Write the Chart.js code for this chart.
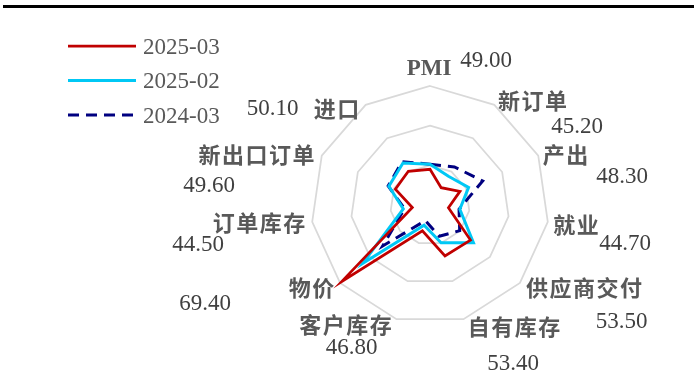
<!DOCTYPE html>
<html>
<head>
<meta charset="utf-8">
<script src="https://cdn.jsdelivr.net/npm/chart.js@4/dist/chart.umd.min.js"></script>
<style>
  html, body { margin: 0; padding: 0; background: #fff; }
  #wrap { position: relative; width: 694px; height: 381px; overflow: hidden; }
  #rule { position: absolute; left: 3px; right: 0; top: 5px; height: 2.5px; background: #000; }
  canvas { display: block; }
</style>
</head>
<body>
<div id="wrap">
  <div id="rule"></div>
  <canvas id="c" width="694" height="381"></canvas>
</div>
<script>
// Sub-indices of the manufacturing PMI, clockwise from the top
const categories = ['PMI', '新订单', '产出', '就业', '供应商交付', '自有库存', '客户库存', '物价', '订单库存', '新出口订单', '进口'];
const seriesNames = ['2025-03', '2025-02', '2024-03'];
const values202503 = [49.0, 45.2, 48.3, 44.7, 53.5, 53.4, 46.8, 69.4, 44.5, 49.6, 50.1];
const values202502 = [50.3, 48.6, 50.7, 47.6, 54.5, 49.9, 45.3, 62.4, 46.8, 51.4, 52.6];
const values202403 = [50.3, 51.4, 54.6, 47.4, 49.9, 48.2, 44.1, 55.8, 46.5, 51.6, 53.0];
const scaleTicks = [40, 50, 60, 70];

// Placement of the axis names and of the latest values, relative to the radar centre
const labelLayout = [
  { name: [-1, -137.5],   value: [56, -146] },
  { name: [102.5, -104],  value: [147, -80] },
  { name: [135.5, -50],   value: [192, -29.5] },
  { name: [146, 20],      value: [195, 37.5] },
  { name: [154, 83],      value: [191.5, 115.5] },
  { name: [84, 121.5],    value: [83, 157.5] },
  { name: [-84.5, 120],   value: [-78.5, 141.5] },
  { name: [-118.5, 82.5], value: [-225, 97.5] },
  { name: [-171, 18],     value: [-232, 38.5] },
  { name: [-173.5, -50],  value: [-221, -21] },
  { name: [-93.5, -96],   value: [-157.5, -97.5] }
];

const SERIF = '"Liberation Serif", "Times New Roman", serif';
const CJK = '"Noto Sans CJK SC", "Noto Sans CJK JP", sans-serif';

// Axis names plus the 2025-03 reading next to each spoke
const axisLabelPlugin = {
  id: 'axisLabels',
  afterDatasetsDraw(chart) {
    const s = chart.scales.r;
    const ctx = chart.ctx;
    ctx.save();
    ctx.textAlign = 'center';
    ctx.textBaseline = 'alphabetic';
    categories.forEach((name, i) => {
      const L = labelLayout[i];
      const latin = /^[A-Za-z]+$/.test(name);
      if (latin) {
        ctx.letterSpacing = '0px';
        ctx.font = 'bold 23px ' + SERIF;
      } else {
        ctx.letterSpacing = '1.5px';
        ctx.font = 'bold 22px ' + CJK;
      }
      ctx.fillStyle = '#595959';
      ctx.fillText(name, s.xCenter + L.name[0] + (latin ? 0 : 0.75), s.yCenter + L.name[1] + (latin ? 7.5 : 8.3));
      ctx.letterSpacing = '0px';
      ctx.font = '23px ' + SERIF;
      ctx.fillStyle = '#404040';
      ctx.fillText(values202503[i].toFixed(2), s.xCenter + L.value[0], s.yCenter + L.value[1] + 7.5);
    });
    ctx.restore();
  }
};

// Vertical line legend in the upper-left corner
const lineLegendPlugin = {
  id: 'lineLegend',
  afterDraw(chart) {
    const ctx = chart.ctx;
    const x0 = 68, x1 = 136, top = 46, gap = 34.5;
    ctx.save();
    chart.data.datasets.forEach((ds, i) => {
      const y = top + gap * i;
      ctx.beginPath();
      ctx.setLineDash(ds.borderDash || []);
      ctx.strokeStyle = ds.borderColor;
      ctx.lineWidth = ds.borderWidth;
      ctx.moveTo(x0, y);
      ctx.lineTo(x1, y);
      ctx.stroke();
      ctx.setLineDash([]);
      ctx.font = '23px ' + SERIF;
      ctx.fillStyle = '#595959';
      ctx.textAlign = 'left';
      ctx.textBaseline = 'alphabetic';
      ctx.fillText(ds.label, 143, y + 7.5);
    });
    ctx.restore();
  }
};

function build() {
  new Chart(document.getElementById('c'), {
    type: 'radar',
    data: {
      labels: categories,
      datasets: [
        { label: seriesNames[0], data: values202503, borderColor: '#C00000', borderWidth: 2.75, fill: false, pointRadius: 0, pointHoverRadius: 0 },
        { label: seriesNames[1], data: values202502, borderColor: '#00C8F5', borderWidth: 3, fill: false, pointRadius: 0, pointHoverRadius: 0 },
        { label: seriesNames[2], data: values202403, borderColor: '#000080', borderWidth: 3, borderDash: [11, 7], fill: false, pointRadius: 0, pointHoverRadius: 0 }
      ]
    },
    options: {
      responsive: false,
      animation: false,
      events: [],
      layout: { padding: { left: 311, right: 145, top: 86, bottom: 57 } },
      elements: { line: { tension: 0, borderJoinStyle: 'miter' } },
      plugins: { legend: { display: false }, tooltip: { enabled: false } },
      scales: {
        r: {
          min: scaleTicks[0],
          max: scaleTicks[scaleTicks.length - 1],
          ticks: { display: false, stepSize: scaleTicks[1] - scaleTicks[0] },
          grid: { color: '#D9D9D9', lineWidth: 1.75 },
          angleLines: { display: false },
          pointLabels: { display: false }
        }
      }
    },
    plugins: [axisLabelPlugin, lineLegendPlugin]
  });
}

const fontLoads = [
  document.fonts.load('bold 22px "Noto Sans CJK SC"', '新订单'),
  document.fonts.load('23px "Liberation Serif"', '2025'),
  document.fonts.load('bold 23px "Liberation Serif"', 'PMI')
];
Promise.all(fontLoads).then(build, build);
</script>
</body>
</html>
